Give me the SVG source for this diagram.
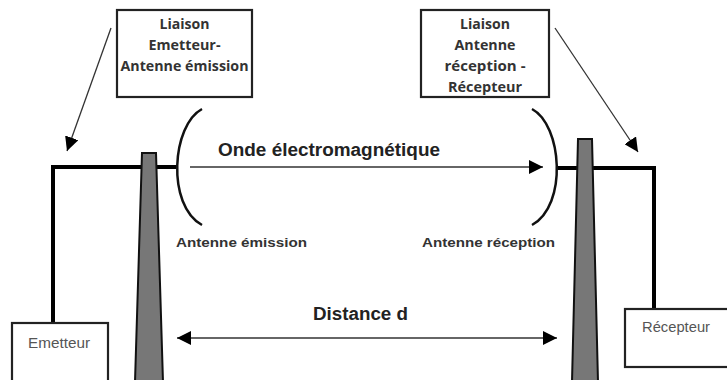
<svg xmlns="http://www.w3.org/2000/svg" width="727" height="380" viewBox="0 0 727 380">
<defs>
<marker id="ahb" viewBox="0 0 10 10" refX="10" refY="5" markerWidth="14" markerHeight="14" markerUnits="userSpaceOnUse" orient="auto-start-reverse">
<path d="M0,0 L10,5 L0,10 z" fill="#000"/>
</marker>
</defs>
<style>
.box{fill:#fff;stroke:#222;stroke-width:2.2}
.lbl{font-family:"Open Sans","Liberation Sans",sans-serif;font-weight:bold;font-size:14.5px;fill:#333;text-anchor:middle}
.big{font-family:"Liberation Sans",Arial,sans-serif;font-weight:bold;font-size:18px;fill:#222}
.ant{font-family:"Liberation Sans",Arial,sans-serif;font-weight:bold;font-size:13.5px;fill:#333}
.dev{font-family:"Liberation Sans",Arial,sans-serif;font-size:14px;fill:#555}
.wire{fill:none;stroke:#000;stroke-width:4}
.mast{fill:#777;stroke:#111;stroke-width:2}
.arc{fill:none;stroke:#111;stroke-width:2.5}
.thin{fill:none;stroke:#333;stroke-width:1.3}
.gline{fill:none;stroke:#666;stroke-width:2}
</style>
<rect width="727" height="380" fill="#fff"/>

<g id="connectors">
<path class="wire" d="M53,323 V167 H176"/>
<path class="wire" d="M557,168 H654 V310"/>
<line class="thin" x1="111" y1="28" x2="67" y2="151" marker-end="url(#ahb)"/>
<line class="thin" x1="555" y1="28" x2="638" y2="152" marker-end="url(#ahb)"/>
<line class="gline" x1="190" y1="167" x2="543" y2="167" marker-end="url(#ahb)"/>
<line class="gline" x1="177" y1="338" x2="557" y2="338" marker-start="url(#ahb)" marker-end="url(#ahb)"/>
</g>

<g id="antenne-emission">
<polygon class="mast" points="142,153 156,153 163,382 135,382"/>
<path class="arc" d="M202,109 C172,125 166,205 202,225"/>
<text class="ant" x="176" y="247" textLength="131" lengthAdjust="spacingAndGlyphs">Antenne émission</text>
</g>

<g id="antenne-reception">
<polygon class="mast" points="578,139 592,139 598,382 572,382"/>
<path class="arc" d="M532,109 C562,125 568,205 532,225"/>
<text class="ant" x="422" y="247" textLength="133" lengthAdjust="spacingAndGlyphs">Antenne réception</text>
</g>

<g id="onde">
<text class="big" x="218" y="156" textLength="222" lengthAdjust="spacingAndGlyphs">Onde électromagnétique</text>
</g>

<g id="distance">
<text class="big" x="313" y="320" textLength="95" lengthAdjust="spacingAndGlyphs">Distance d</text>
</g>

<g id="liaison-emetteur">
<rect class="box" x="117" y="10" width="135" height="87"/>
<text class="lbl" x="184.5" y="29" textLength="50" lengthAdjust="spacingAndGlyphs">Liaison</text>
<text class="lbl" x="184.5" y="50" textLength="72" lengthAdjust="spacingAndGlyphs">Emetteur-</text>
<text class="lbl" x="184.5" y="71" textLength="128" lengthAdjust="spacingAndGlyphs">Antenne émission</text>
</g>

<g id="liaison-recepteur">
<rect class="box" x="421" y="10" width="128" height="87"/>
<text class="lbl" x="485" y="29" textLength="50" lengthAdjust="spacingAndGlyphs">Liaison</text>
<text class="lbl" x="485" y="50" textLength="61" lengthAdjust="spacingAndGlyphs">Antenne</text>
<text class="lbl" x="485" y="71" textLength="81" lengthAdjust="spacingAndGlyphs">réception -</text>
<text class="lbl" x="485" y="92" textLength="74" lengthAdjust="spacingAndGlyphs">Récepteur</text>
</g>

<g id="emetteur">
<rect class="box" x="12" y="323" width="96" height="62"/>
<text class="dev" x="28" y="348" textLength="62" lengthAdjust="spacingAndGlyphs">Emetteur</text>
</g>

<g id="recepteur">
<rect class="box" x="625" y="309" width="108" height="58"/>
<text class="dev" x="642" y="332" textLength="68" lengthAdjust="spacingAndGlyphs">Récepteur</text>
</g>
</svg>
